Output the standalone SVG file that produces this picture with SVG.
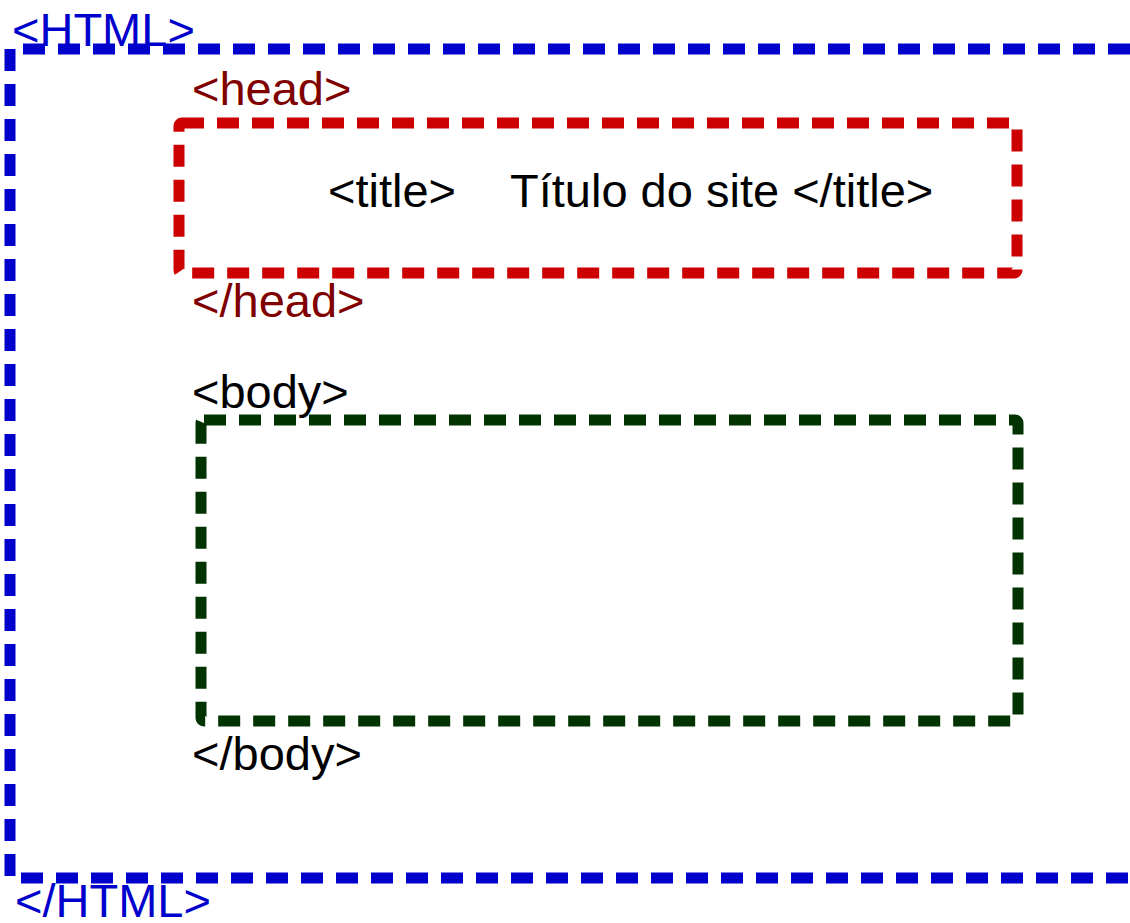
<svg xmlns="http://www.w3.org/2000/svg" width="1130" height="923" viewBox="0 0 1130 923">
<style>
.t{font-family:"Liberation Sans",Arial,sans-serif;font-size:47px}
.box{fill:none;stroke-width:11;stroke-dasharray:22 13;stroke-linejoin:round}
</style>
<rect width="1130" height="923" fill="#fff"/>
<g id="html">
<path class="box" d="M1130,49 H10 V878 H1130" stroke="#0000cc"/>
<text class="t" x="12" y="46" fill="#0000cc">&lt;HTML&gt;</text>
<text class="t" x="15" y="917" fill="#0000cc">&lt;/HTML&gt;</text>
</g>
<g id="head">
<rect class="box" x="179" y="123" width="838" height="150" rx="3" stroke="#cc0000"/>
<text class="t" x="192" y="105" fill="#800000">&lt;head&gt;</text>
<text class="t" x="192" y="317" fill="#800000">&lt;/head&gt;</text>
<text class="t" x="328" y="207" fill="#000">&lt;title&gt;</text>
<text class="t" x="510" y="207" fill="#000">Título do site &lt;/title&gt;</text>
</g>
<g id="body">
<rect class="box" x="201" y="420" width="817" height="301" rx="3" stroke="#003300"/>
<text class="t" x="192" y="408" fill="#000">&lt;body&gt;</text>
<text class="t" x="192" y="770" fill="#000">&lt;/body&gt;</text>
</g>
<g id="connectors"/>
</svg>
